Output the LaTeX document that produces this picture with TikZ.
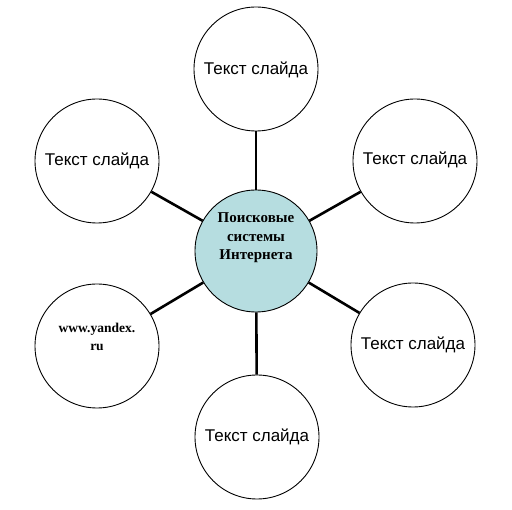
\documentclass[tikz,border=0pt]{standalone}
\usepackage{fontspec}
\setmainfont{Liberation Serif}
\newfontfamily\arialf{Liberation Sans}
\definecolor{hubfill}{RGB}{182,221,224}
\tikzset{
  ring/.style={circle, draw=black, line width=0.9pt, minimum size=124pt, inner sep=0pt, fill=white},
  hub/.style={ring, fill=hubfill, minimum size=122pt},
  spoke/.style={line width=2.6pt, black},
  slidetext/.style={font=\arialf\fontsize{17}{20}\selectfont, inner sep=0pt},
  hubtext/.style={font=\bfseries\fontsize{15}{18.5}\selectfont, align=center, inner sep=0pt},
  webtext/.style={font=\bfseries\fontsize{13.5}{18}\selectfont, align=center, inner sep=0pt}
}
\begin{document}
\begin{tikzpicture}[x=1pt,y=-1pt]
\useasboundingbox (0,0) rectangle (512,510);
\node[hub] (c) at (256,251) {};
\node[ring] (t) at (256,69) {};
\node[ring] (rt) at (415,161) {};
\node[ring] (rb) at (413,345) {};
\node[ring] (b) at (257,437) {};
\node[ring] (lb) at (97,346) {};
\node[ring] (lt) at (97,161) {};
\foreach \n in {t,rt,rb,b,lb,lt} {\draw[spoke] (c) -- (\n);}
\node[hubtext] (ct) at (256,238) {Поисковые\\системы\\Интернета};
\node[slidetext] (tt) at (256,70) {Текст слайда};
\node[slidetext] (rtt) at (415,160) {Текст слайда};
\node[slidetext] (rbt) at (413,345) {Текст слайда};
\node[slidetext] (bt) at (257,437) {Текст слайда};
\node[slidetext] (ltt) at (97,161) {Текст слайда};
\node[webtext] (lbt) at (97,337) {www.yandex.\\ru};
\end{tikzpicture}
\end{document}
